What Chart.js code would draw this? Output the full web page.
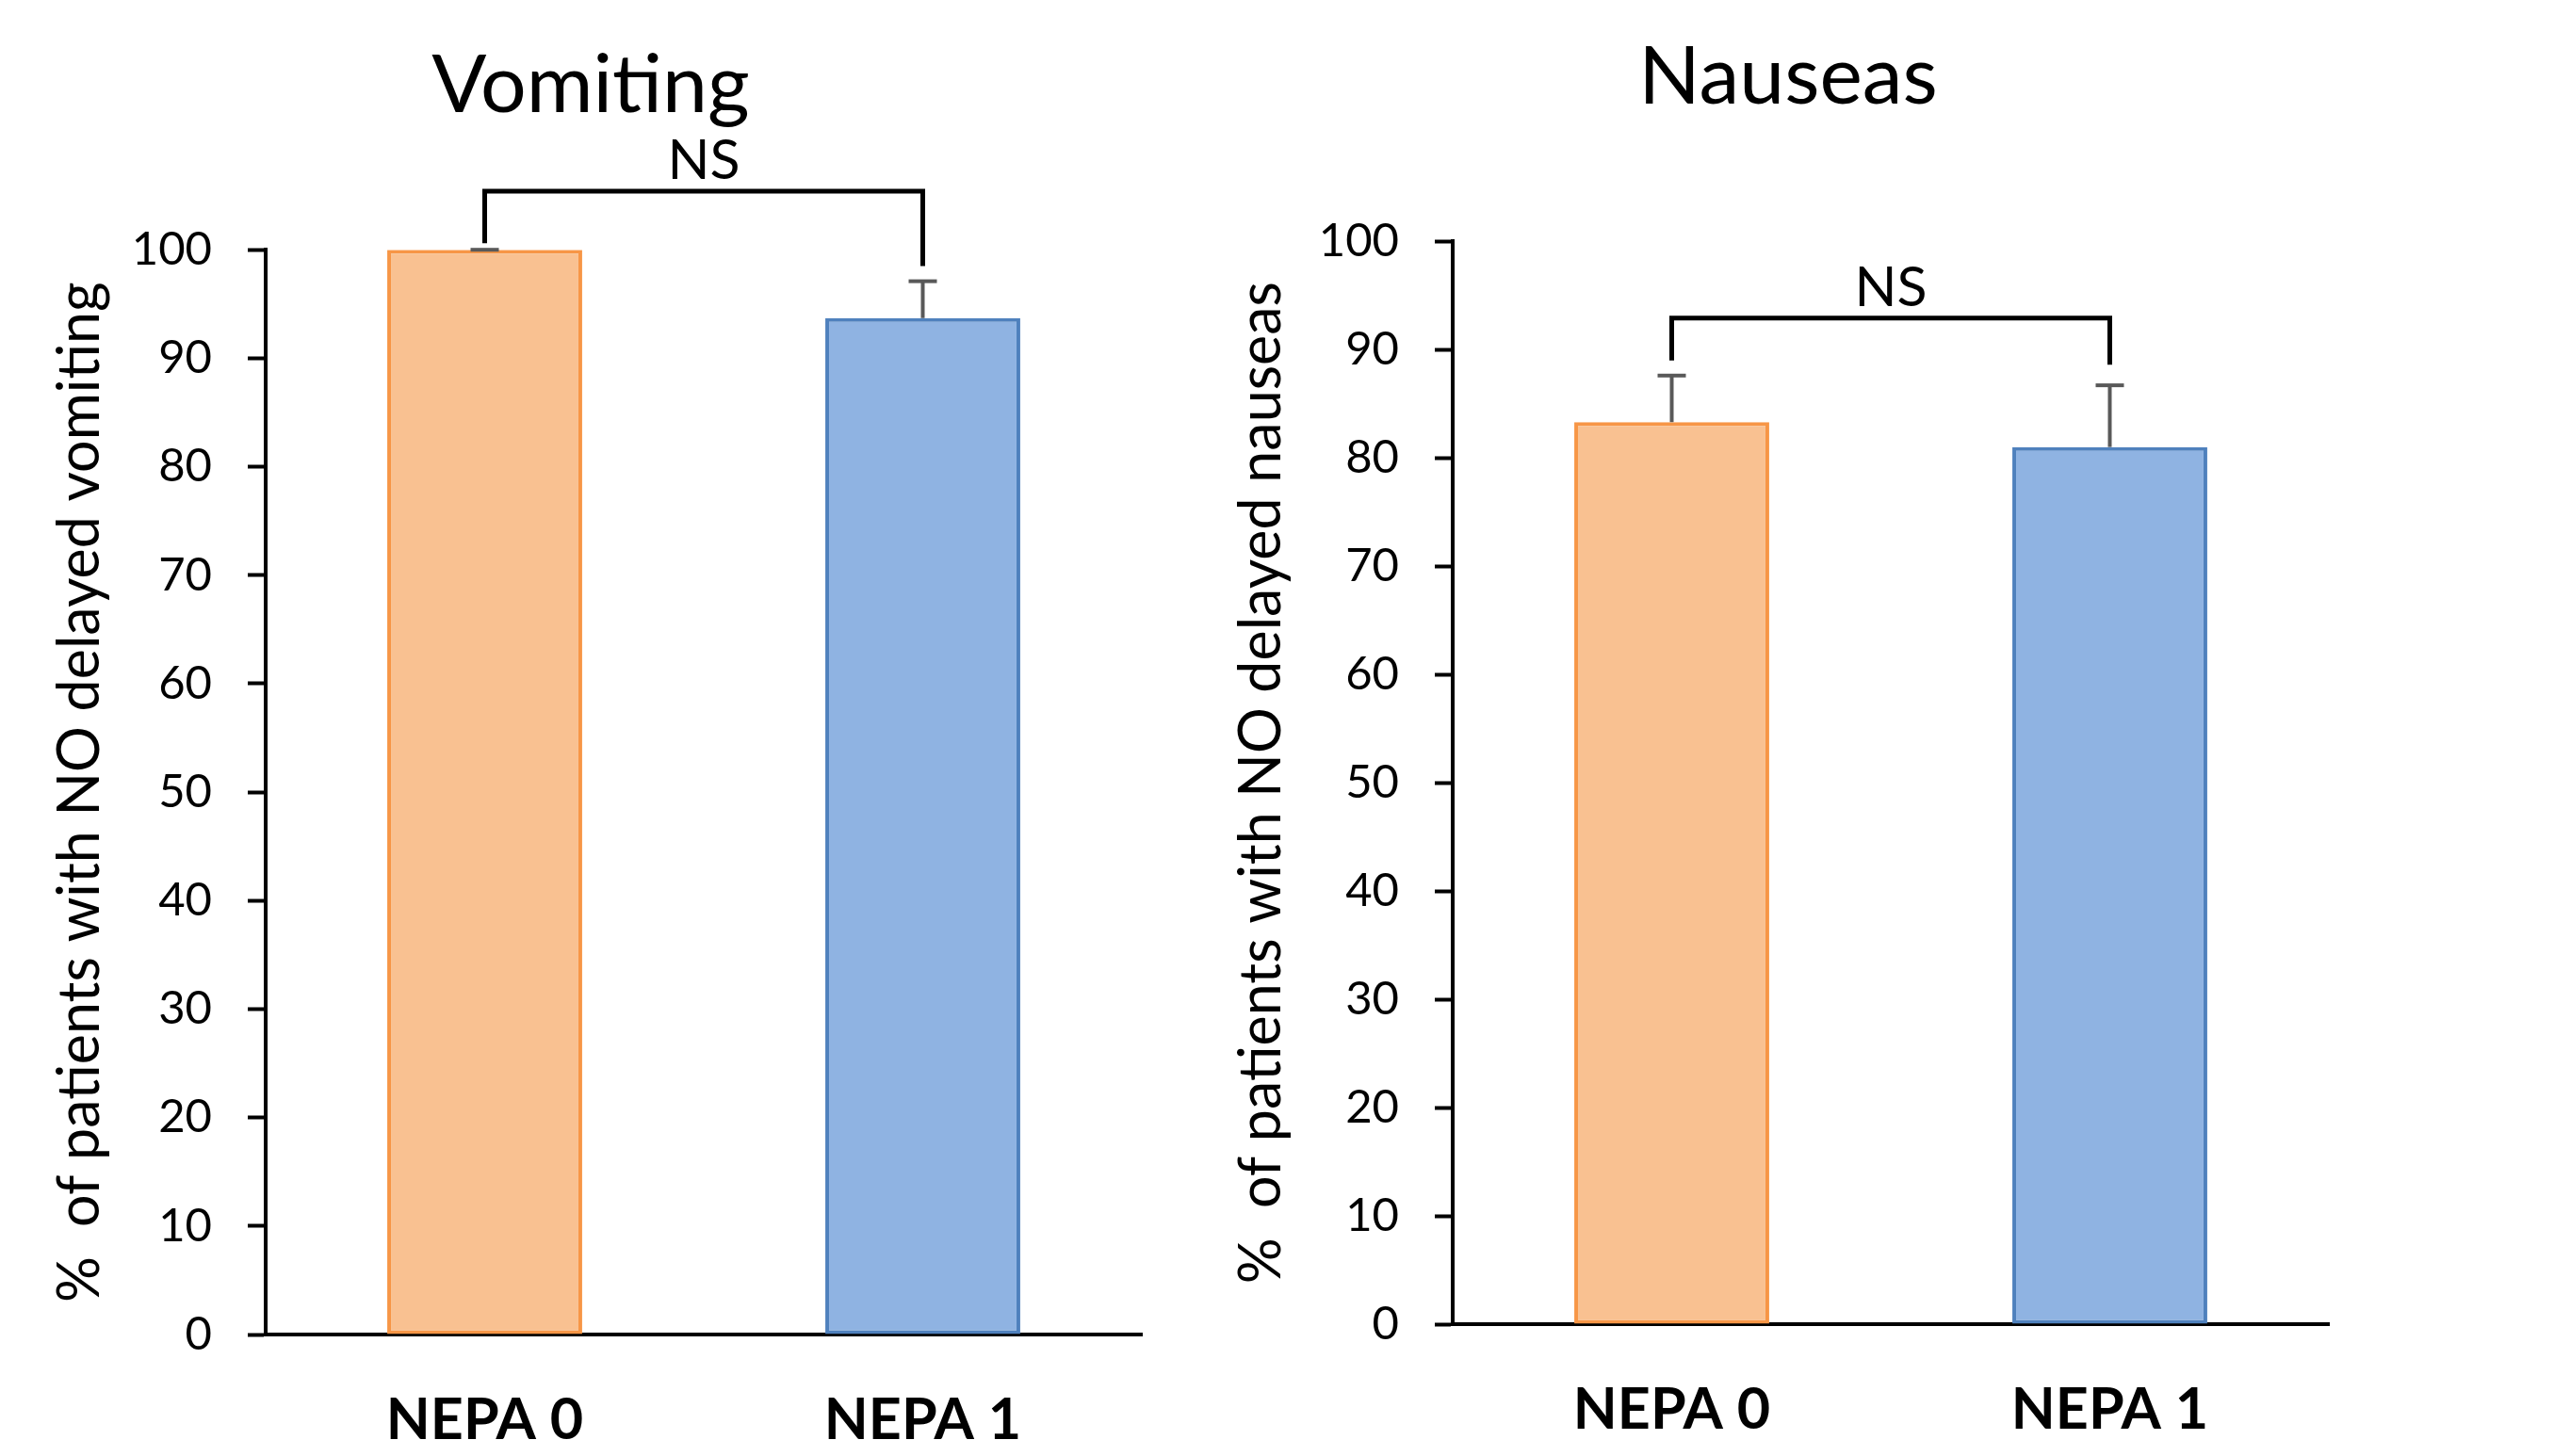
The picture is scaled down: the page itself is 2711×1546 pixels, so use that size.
<!DOCTYPE html>
<html>
<head>
<meta charset="utf-8">
<script src="https://cdn.jsdelivr.net/npm/chart.js@4.4.1/dist/chart.umd.min.js"></script>
<style>
  html, body { margin: 0; padding: 0; background: #ffffff; }
  body { width: 2711px; height: 1546px; position: relative; overflow: hidden; }
  #wrapA { position: absolute; left: 0px; top: 0px; }
  #wrapB { position: absolute; left: 1260px; top: -9px; }
</style>
</head>
<body>
<div id="wrapA"><canvas id="chartA" width="1260" height="1546"></canvas></div>
<div id="wrapB"><canvas id="chartB" width="1280" height="1546"></canvas></div>
<script>
// ---- data ----
const categories = ['NEPA 0', 'NEPA 1'];
const vomitingValues = [100, 93.7];
const vomitingErrors = [0, 3.4];
const nauseasValues = [83.3, 81.0];
const nauseasErrors = [4.3, 5.7];
const chartTitles = ['Vomiting', 'Nauseas'];
const yAxisTitles = ['%  of patients with NO delayed vomiting', '%  of patients with NO delayed nauseas'];
const significanceLabels = ['NS', 'NS'];
const yMin = 0, yMax = 100, yStep = 10;

// ---- styles ----
const fillColors = ['#F9C191', '#8FB3E2'];
const borderColors = ['#F79646', '#4F81BD'];
const FONT = 'Lato, "Open Sans", "Liberation Sans", sans-serif';

const errorBarPlugin = {
  id: 'errorBars',
  afterDatasetsDraw(chart, args, opts) {
    const ctx = chart.ctx;
    const xs = chart.scales.x, ys = chart.scales.y;
    const vals = chart.data.datasets[0].data;
    const errs = opts.errors || [];
    ctx.save();
    ctx.strokeStyle = '#595959';
    ctx.lineWidth = 4;
    vals.forEach((v, i) => {
      const x = xs.getPixelForValue(i);
      const y0 = ys.getPixelForValue(v);
      const y1 = ys.getPixelForValue(v + (errs[i] || 0));
      ctx.beginPath();
      ctx.moveTo(x, y0);
      ctx.lineTo(x, y1);
      ctx.stroke();
      ctx.beginPath();
      ctx.moveTo(x - 15, y1);
      ctx.lineTo(x + 15, y1);
      ctx.stroke();
    });
    // significance bracket
    const b = opts.bracket;
    if (b) {
      const xa = xs.getPixelForValue(0), xb = xs.getPixelForValue(1);
      const yTop = ys.getPixelForValue(b.level);
      const yl = ys.getPixelForValue(b.leftFoot);
      const yr = ys.getPixelForValue(b.rightFoot);
      ctx.strokeStyle = '#000000';
      ctx.lineWidth = 5;
      ctx.lineJoin = 'miter';
      ctx.beginPath();
      ctx.moveTo(xa, yl);
      ctx.lineTo(xa, yTop);
      ctx.lineTo(xb, yTop);
      ctx.lineTo(xb, yr);
      ctx.stroke();
      ctx.fillStyle = '#000000';
      ctx.font = '59px ' + FONT;
      ctx.textAlign = 'center';
      ctx.textBaseline = 'alphabetic';
      ctx.fillText(b.text, (xa + xb) / 2, yTop - 13);
    }
    ctx.restore();
  }
};

function makeChart(canvasId, values, errors, title, yTitle, sig, padLeft, padRight, yTitlePad, xAxisHeight, bracket) {
  return new Chart(document.getElementById(canvasId), {
    type: 'bar',
    data: {
      labels: categories,
      datasets: [{
        data: values,
        backgroundColor: fillColors,
        borderColor: borderColors,
        borderWidth: 4,
        borderSkipped: false,
        categoryPercentage: 1.0,
        barPercentage: 0.445
      }]
    },
    options: {
      responsive: false,
      devicePixelRatio: 1,
      animation: false,
      layout: { padding: { left: padLeft, right: padRight, top: 0, bottom: 0 } },
      plugins: {
        legend: { display: false },
        tooltip: { enabled: false },
        title: {
          display: true,
          text: title,
          color: '#000000',
          font: { family: FONT, size: 86, weight: 'normal', lineHeight: 1.2 },
          padding: { top: 40, bottom: 122 }
        },
        errorBars: { errors: errors, bracket: Object.assign({ text: sig }, bracket) }
      },
      scales: {
        x: {
          grid: { display: false, drawTicks: false },
          border: { display: true, color: '#000000', width: 4 },
          ticks: {
            color: '#000000',
            padding: 55,
            font: { family: FONT, size: 61, weight: 'bold', lineHeight: 1.2 }
          },
          afterFit(scale) { scale.height = xAxisHeight; }
        },
        y: {
          min: yMin,
          max: yMax,
          grid: {
            drawOnChartArea: false,
            drawTicks: true,
            tickLength: 19,
            tickWidth: 4,
            tickColor: '#000000',
            color: '#000000'
          },
          border: { display: true, color: '#000000', width: 4 },
          ticks: {
            stepSize: yStep,
            color: '#000000',
            padding: 38,
            font: { family: FONT, size: 49, lineHeight: 1.2 }
          },
          title: {
            display: true,
            text: yTitle,
            color: '#000000',
            font: { family: FONT, size: 61, lineHeight: 0.5 },
            padding: { top: yTitlePad, bottom: 0 }
          },
          afterFit(scale) { scale.width = 282 - padLeft; }
        }
      }
    },
    plugins: [errorBarPlugin]
  });
}

makeChart('chartA', vomitingValues, vomitingErrors, chartTitles[0], yAxisTitles[0], significanceLabels[0],
  42, 48, 28, 129, { level: 105.4, leftFoot: 100.6, rightFoot: 98.5 });
makeChart('chartB', nauseasValues, nauseasErrors, chartTitles[1], yAxisTitles[1], significanceLabels[1],
  64, 68, 0, 131, { level: 92.9, leftFoot: 89.0, rightFoot: 88.6 });
</script>
</body>
</html>
